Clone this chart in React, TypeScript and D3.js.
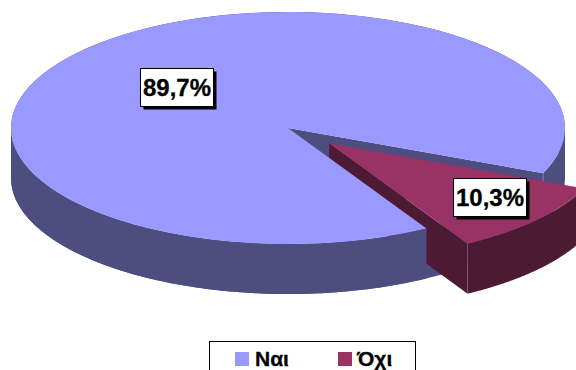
import React from "react";
import * as d3 from "d3";

const categories = ["Ναι", "Όχι"];
const shares = [89.7, 10.3];
const shareLabels = ["89,7%", "10,3%"];
const topColors = ["#9999ff", "#993366"];
const wallColors = ["#4d4d80", "#4d1a33"];

const WIDTH = 576;
const HEIGHT = 370;
const DEPTH = 50;
const EXPLODE = 0.198;
const FONT = "'Liberation Sans', Arial, sans-serif";

const xScale = d3.scaleLinear().domain([-1, 1]).range([11, 565]);
const yScale = d3.scaleLinear().domain([-1, 1]).range([12, 244]);

const toRad = (deg: number) => (deg * Math.PI) / 180;

const pie = d3
  .pie<number>()
  .sort(null)
  .startAngle(toRad(150))
  .endAngle(toRad(510));
const [yesArc, noArc] = pie(shares);

type Pt = [number, number];
const line = d3.line<Pt>();

// Projects a pie angle onto the tilted disc, optionally lowered to the base.
const project = (angle: number, r = 1, drop = 0, dx = 0, dy = 0): Pt => [
  xScale(r * Math.sin(angle)) + dx,
  yScale(-r * Math.cos(angle)) + drop + dy,
];

const rimPoints = (a0: number, a1: number, drop = 0, dx = 0, dy = 0): Pt[] =>
  d3
    .range(0, 121)
    .map((i) => project(a0 + ((a1 - a0) * i) / 120, 1, drop, dx, dy));

const topFace = (a0: number, a1: number, dx = 0, dy = 0) =>
  (line([project(0, 0, 0, dx, dy), ...rimPoints(a0, a1, 0, dx, dy)]) ?? "") + "Z";

// Outer wall between two angles: top rim forward, bottom rim back.
const rimWall = (a0: number, a1: number, dx = 0, dy = 0) =>
  (line([
    ...rimPoints(a0, a1, 0, dx, dy),
    ...rimPoints(a0, a1, DEPTH, dx, dy).reverse(),
  ]) ?? "") + "Z";

// Flat wall running from the pie's axis out to the rim at one angle.
const radialWall = (a: number, dx = 0, dy = 0) =>
  (line([
    project(a, 0, 0, dx, dy),
    project(a, 1, 0, dx, dy),
    project(a, 1, DEPTH, dx, dy),
    project(a, 0, DEPTH, dx, dy),
  ]) ?? "") + "Z";

const midAngle = (noArc.startAngle + noArc.endAngle) / 2;
const offX = xScale(EXPLODE * Math.sin(midAngle)) - xScale(0);
const offY = yScale(-EXPLODE * Math.cos(midAngle)) - yScale(0);

function ValueLabel({ x, y, w, h, text }: { x: number; y: number; w: number; h: number; text: string }) {
  return (
    <g>
      <rect x={x + 3} y={y + 3} width={w} height={h} fill="#000" />
      <rect x={x} y={y} width={w} height={h} fill="#fff" stroke="#000" strokeWidth={1} />
      <text
        x={x + w / 2}
        y={y + h / 2 + 8.5}
        textAnchor="middle"
        fontFamily={FONT}
        fontWeight="bold"
        fontSize={24}
        fill="#000"
        stroke="#000"
        strokeWidth={0.3}
      >
        {text}
      </text>
    </g>
  );
}

export default function App() {
  const yesEnd = yesArc.endAngle; // right-hand cut of the large slice
  const yesStart = yesArc.startAngle; // lower cut of the large slice

  return (
    <svg
      width={WIDTH}
      height={HEIGHT}
      viewBox={`0 0 ${WIDTH} ${HEIGHT}`}
      style={{ position: "absolute", left: 0, top: 0, display: "block", background: "#fff" }}
    >
      {/* walls of the large slice that sit behind the pulled-out slice */}
      <path d={radialWall(yesEnd)} fill={wallColors[0]} />
      <path d={rimWall(toRad(90), yesEnd)} fill={wallColors[0]} />
      <line
        x1={project(yesEnd)[0]}
        y1={project(yesEnd)[1]}
        x2={project(yesEnd, 1, DEPTH)[0]}
        y2={project(yesEnd, 1, DEPTH)[1]}
        stroke="#8a8ab8"
        strokeWidth={0.8}
      />

      {/* pulled-out slice */}
      <path d={radialWall(noArc.endAngle, offX, offY)} fill={wallColors[1]} />
      <path d={rimWall(noArc.startAngle, noArc.endAngle, offX, offY)} fill={wallColors[1]} />
      <path d={topFace(noArc.startAngle, noArc.endAngle, offX, offY)} fill={topColors[1]} />
      <line
        x1={project(noArc.endAngle, 1, 0, offX, offY)[0]}
        y1={project(noArc.endAngle, 1, 0, offX, offY)[1]}
        x2={project(noArc.endAngle, 1, DEPTH, offX, offY)[0]}
        y2={project(noArc.endAngle, 1, DEPTH, offX, offY)[1]}
        stroke="#8a5a72"
        strokeWidth={0.8}
      />

      {/* large slice, front wall then top */}
      <path d={rimWall(yesStart, toRad(270))} fill={wallColors[0]} />
      <path d={topFace(yesStart, yesEnd)} fill={topColors[0]} />

      <ValueLabel x={140.5} y={68.5} w={73} h={38} text={shareLabels[0]} />
      <ValueLabel x={453.5} y={178.5} w={73} h={38} text={shareLabels[1]} />

      {/* legend, its lower edge runs off the page */}
      <rect x={209.5} y={341.5} width={206} height={40} fill="#fff" stroke="#000" strokeWidth={1} />
      {categories.map((name, i) => (
        <g key={name}>
          <rect x={235 + i * 103} y={352} width={14} height={14} fill={topColors[i]} />
          <text
            x={255 + i * 102}
            y={366}
            fontFamily={FONT}
            fontWeight="bold"
            fontSize={21}
            fill="#000"
            stroke="#000"
            strokeWidth={0.3}
          >
            {name}
          </text>
        </g>
      ))}
    </svg>
  );
}
